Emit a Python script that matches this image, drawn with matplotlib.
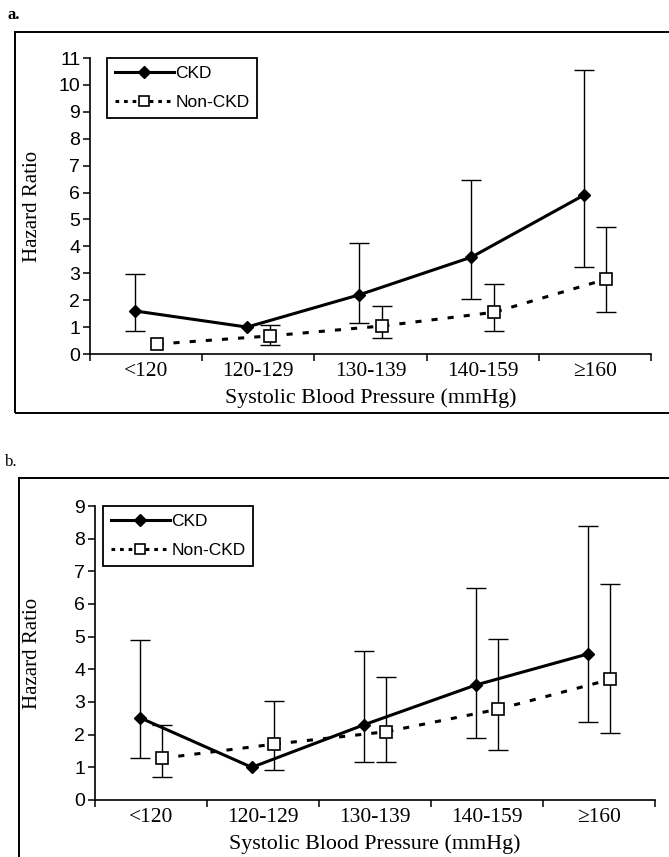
import numpy as np
import matplotlib
matplotlib.use('Agg')
import matplotlib.pyplot as plt
from matplotlib.lines import Line2D
from matplotlib.patches import Rectangle

W, H = 669, 857

categories = ['<120', '120-129', '130-139', '140-159', '\u2265160']

# panel a
a_ckd_hr = [1.6, 1.0, 2.2, 3.6, 5.9]
a_ckd_lo = [0.86, np.nan, 1.17, 2.03, 3.25]
a_ckd_hi = [2.97, np.nan, 4.13, 6.48, 10.55]
a_non_hr = [0.37, 0.67, 1.04, 1.55, 2.78]
a_non_lo = [np.nan, 0.34, 0.60, 0.86, 1.57]
a_non_hi = [np.nan, 1.08, 1.80, 2.60, 4.73]

# panel b
b_ckd_hr = [2.52, 1.0, 2.30, 3.52, 4.47]
b_ckd_lo = [1.30, np.nan, 1.17, 1.89, 2.38]
b_ckd_hi = [4.90, np.nan, 4.57, 6.48, 8.39]
b_non_hr = [1.28, 1.71, 2.09, 2.78, 3.69]
b_non_lo = [0.71, 0.92, 1.17, 1.53, 2.04]
b_non_hi = [2.30, 3.04, 3.77, 4.93, 6.62]

SERIF = ['Liberation Serif', 'DejaVu Serif']
SANS = ['Liberation Sans', 'DejaVu Sans']

fig = plt.figure(figsize=(W / 100, H / 100), dpi=100)


def px_axes(l, t, r, b):
    return fig.add_axes([l / W, 1 - b / H, (r - l) / W, (b - t) / H])


def frame(l, t, r, b):
    fig.add_artist(Rectangle((l / W, 1 - b / H), (r - l) / W, (b - t) / H,
                             transform=fig.transFigure, fill=False,
                             lw=1.4, ec='black', clip_on=False))


def panel(ax, ckd, ckd_lo, ckd_hi, non, non_lo, non_hi, ymax, leg_x, ylab_x):
    x = np.arange(len(categories))
    xc = x - 0.1
    xn = x + 0.1
    ckd = np.array(ckd)
    non = np.array(non)
    ckd_err = [ckd - np.array(ckd_lo), np.array(ckd_hi) - ckd]
    non_err = [non - np.array(non_lo), np.array(non_hi) - non]

    ax.errorbar(xc, ckd, yerr=ckd_err, fmt='none', ecolor='black',
                elinewidth=1.0, capsize=7, capthick=1.0, zorder=2)
    ax.errorbar(xn, non, yerr=non_err, fmt='none', ecolor='black',
                elinewidth=1.0, capsize=7, capthick=1.0, zorder=2)
    ax.plot(xc, ckd, color='black', lw=2.2, marker='D', ms=6.5,
            mfc='black', mec='black', zorder=4)
    ax.plot(xn, non, color='black', lw=2.2, dashes=(2.0, 3.3),
            marker='s', ms=8, mfc='white', mec='black', mew=1.2, zorder=3)

    ax.set_xlim(-0.5, len(categories) - 0.5)
    ax.set_ylim(0, ymax)
    ax.set_yticks(range(0, ymax + 1))
    ax.set_xticks(np.arange(-0.5, len(categories)))
    ax.set_xticklabels([])
    ax.set_xticks(x, minor=True)
    ax.set_xticklabels(categories, minor=True, fontfamily=SERIF, fontsize=15.5)
    ax.tick_params(axis='x', which='minor', length=0, pad=6)
    ax.tick_params(axis='x', which='major', length=5, width=1.1, direction='out')
    ax.tick_params(axis='y', length=5, width=1.1, direction='out', pad=2,
                   labelsize=14)
    for lab in ax.get_yticklabels():
        lab.set_fontfamily(SANS)
    for s in ['top', 'right']:
        ax.spines[s].set_visible(False)
    for s in ['left', 'bottom']:
        ax.spines[s].set_linewidth(1.2)

    ax.set_xlabel('Systolic Blood Pressure (mmHg)', fontfamily=SERIF,
                  fontsize=15.8, labelpad=5)
    ax.set_ylabel('Hazard Ratio', fontfamily=SERIF, fontsize=15)
    ax.yaxis.set_label_coords(ylab_x, 0.5)

    handles = [
        Line2D([], [], color='black', lw=2.2, marker='D', ms=6.5),
        Line2D([], [], color='black', lw=2.2, dashes=(1.2, 1.6), marker='s',
               ms=7, mfc='white', mec='black', mew=1.2),
    ]
    leg = ax.legend(handles, ['CKD', 'Non-CKD'], loc='upper left',
                    bbox_to_anchor=(leg_x, 1.0), borderaxespad=0,
                    fancybox=False, framealpha=1, edgecolor='black',
                    handlelength=3.4, handletextpad=0.1, borderpad=0.45,
                    labelspacing=0.8, prop={'family': SANS, 'size': 12.5})
    leg.get_frame().set_linewidth(1.3)


# panel a
frame(15, 32, 700, 413)
fig.text(8 / W, 1 - 15 / H, 'a.', fontfamily=SERIF, fontsize=12,
         fontweight='bold', va='center', ha='left')
ax1 = px_axes(90, 58, 651, 354)
panel(ax1, a_ckd_hr, a_ckd_lo, a_ckd_hi, a_non_hr, a_non_lo, a_non_hi, 11,
      0.03, -0.086)

# panel b
frame(19, 478, 700, 900)
fig.text(5 / W, 1 - 462 / H, 'b.', fontfamily=SERIF, fontsize=12,
         va='center', ha='left')
ax2 = px_axes(95, 506, 655, 800)
panel(ax2, b_ckd_hr, b_ckd_lo, b_ckd_hi, b_non_hr, b_non_lo, b_non_hi, 9,
      0.014, -0.095)

fig.savefig('out.png', dpi=100)
